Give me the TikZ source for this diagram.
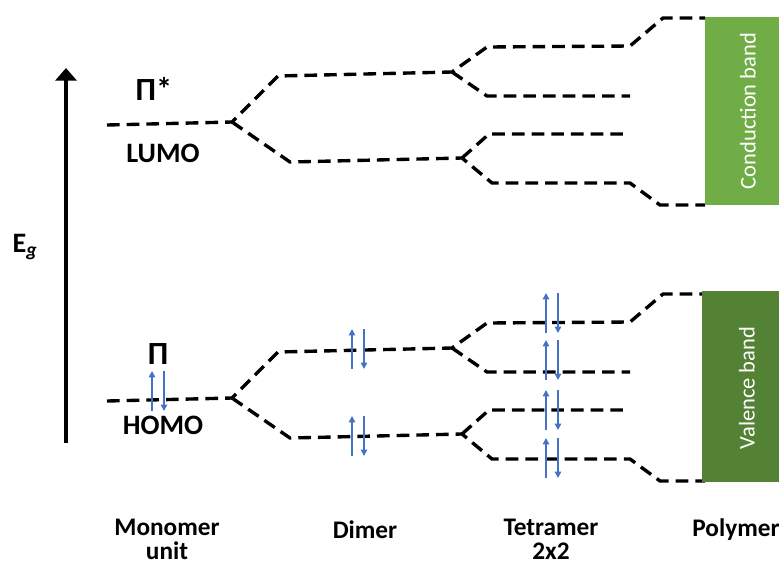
\documentclass[tikz,border=0pt]{standalone}
\usepackage{fontspec}
\setmainfont{Carlito}
\usetikzlibrary{arrows.meta}

\definecolor{cbgreen}{HTML}{70AD47}
\definecolor{vbgreen}{HTML}{548235}
\definecolor{spinblue}{HTML}{4472C4}

\tikzset{
  level/.style={line width=2.4pt, dash pattern=on 9pt off 5pt},
  spin/.style={spinblue, line width=1.3pt, -{Triangle[width=4.5pt,length=4.5pt]}},
  lbl/.style={font=\bfseries\fontsize{18}{17}\selectfont, align=center},
  mo/.style={font=\bfseries\fontsize{20}{22}\selectfont},
  orb/.style={font=\bfseries\fontsize{23}{25}\selectfont},
  bandtext/.style={white, rotate=90, font=\fontsize{16}{18}\selectfont}
}

\begin{document}
\begin{tikzpicture}[x=0.25mm, y=-0.25mm]
\useasboundingbox (0,0) rectangle (779,565);

% energy axis
\coordinate (axis-bot) at (66,443);
\coordinate (axis-top) at (66,68);
\draw[line width=2.8pt, -{Triangle[width=15pt,length=9pt]}] (axis-bot) -- (axis-top);
\node[mo] (eg) at (25,247) {E\textsubscript{\textit{g}}};

% levels: same splitting for pi* (cb) and pi (vb)
\foreach \pre/\dy in {cb/0, vb/276} {
\begin{scope}[name prefix = \pre-, shift={(0,\dy)}]
    \coordinate (mono-l) at (107,125);
    \coordinate (mono-r) at (232,122);
    \coordinate (dim-ul) at (278,76);
    \coordinate (dim-ur) at (452,72);
    \coordinate (dim-ll) at (290,162);
    \coordinate (dim-lr) at (462,158);
    \coordinate (tet-1l) at (487,47);
    \coordinate (tet-1r) at (630,46);
    \coordinate (tet-2l) at (487,96);
    \coordinate (tet-2r) at (630,96);
    \coordinate (tet-3l) at (489,134);
    \coordinate (tet-3r) at (630,134);
    \coordinate (tet-4l) at (492,183);
    \coordinate (tet-4r) at (630,183);
    \coordinate (pol-ul) at (663,18);
    \coordinate (pol-ur) at (705,18);
    \coordinate (pol-ll) at (660,205);
    \coordinate (pol-lr) at (705,205);
    \draw[level] (mono-l) -- (mono-r) -- (dim-ul) -- (dim-ur) -- (tet-1l) -- (tet-1r) -- (pol-ul) -- (pol-ur);
    \draw[level] (mono-r) -- (dim-ll) -- (dim-lr) -- (tet-4l) -- (tet-4r) -- (pol-ll) -- (pol-lr);
    \draw[level] (dim-ur) -- (tet-2l) -- (tet-2r);
    \draw[level] (dim-lr) -- (tet-3l) -- (tet-3r);
\end{scope}
}

% bands
\fill[cbgreen] (705,17) rectangle (779,205);
\fill[vbgreen] (702,291) rectangle (779,482);
\node[bandtext] (cb-text) at (748,111) {Conduction band};
\node[bandtext] (vb-text) at (747,388) {Valence band};

% orbital labels
\node[orb] (pistar) at (154,89) {Π*};
\node[mo] (lumo) at (163,153) {LUMO};
\node[orb] (pi) at (158,354) {Π};
\node[mo] (homo) at (163,425) {HOMO};

% paired electrons
\foreach \x/\y in {158/391, 358/349, 358/436, 552/313, 552/360, 552/410, 552/458} {
    \draw[spin] (\x-6,\y+20) -- (\x-6,\y-20);
    \draw[spin] (\x+6,\y-20) -- (\x+6,\y+20);
}

% stages
\node[lbl] (monomer) at (167,539) {Monomer\\unit};
\node[lbl] (dimer) at (365,530) {Dimer};
\node[lbl] (tetramer) at (551,539) {Tetramer\\2x2};
\node[lbl] (polymer) at (736,530) {Polymer};

\end{tikzpicture}
\end{document}
